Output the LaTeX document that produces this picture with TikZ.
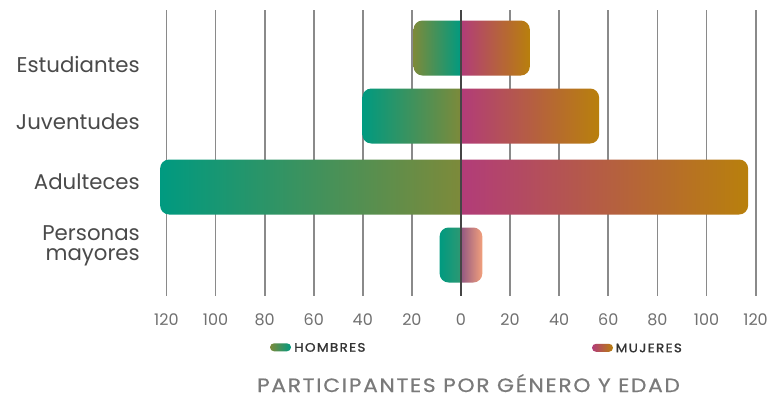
\documentclass[tikz,border=0pt]{standalone}
\usepackage{fontspec}
\setmainfont{Poppins}
\newfontfamily\semib{Poppins}[FakeBold=1.2,LetterSpace=10]
\newfontfamily\medf{Poppins}[FakeBold=0.6,LetterSpace=8]
\definecolor{cTeal}{HTML}{009A80}
\definecolor{cOlive}{HTML}{7D8A3A}
\definecolor{cMag}{HTML}{B23C79}
\definecolor{cGold}{HTML}{B8800C}
\definecolor{cPurp}{HTML}{935882}
\definecolor{cSalm}{HTML}{F2A07C}
\definecolor{cTealG}{HTML}{2E9872}
\definecolor{cGrid}{HTML}{8A8A8A}
\definecolor{cAxis}{HTML}{454545}
\definecolor{cCat}{HTML}{4A4A4A}
\definecolor{cTick}{HTML}{707070}
\definecolor{cLeg}{HTML}{333333}
\definecolor{cTitle}{HTML}{7A7A7A}
\tikzset{
  gridline/.style={draw=cGrid,line width=1.8pt},
  axisline/.style={draw=cAxis,line width=1.6pt},
  barshape/.style={rounded corners=9pt},
  cat/.style={anchor=base east,inner sep=0pt,text=cCat,font=\fontsize{21.3}{20}\selectfont},
  tick/.style={anchor=base,inner sep=0pt,text=cTick,font=\fontsize{16}{16}\selectfont},
  leg/.style={anchor=base west,inner sep=0pt,text=cLeg,font=\semib\fontsize{12.3}{13}\selectfont,xscale=1.1,transform shape},
  ttl/.style={anchor=base,inner sep=0pt,text=cTitle,font=\medf\fontsize{19.3}{20}\selectfont,xscale=1.125,transform shape}
}
\begin{document}
\begin{tikzpicture}[x=1pt,y=-1pt]
\useasboundingbox (0,0) rectangle (773,397);
\fill[white] (0,0) rectangle (773,397);
% grid
\foreach \k in {-6,...,6}{
  \draw[gridline] ({461+49.1*\k},10) -- ({461+49.1*\k},296);
}
% bars: men (left)
\shade[barshape,left color=cOlive,right color=cTeal] (461,20.5) -- (413.5,20.5) -- (413.5,75.5) -- (461,75.5);
\shade[barshape,left color=cTeal,right color=cOlive] (461,88.5) -- (362.3,88.5) -- (362.3,143.5) -- (461,143.5);
\shade[barshape,left color=cTeal,right color=cOlive] (461,159.5) -- (160.1,159.5) -- (160.1,214.5) -- (461,214.5);
\shade[barshape,left color=cTeal,right color=cTealG] (461,227.5) -- (439.6,227.5) -- (439.6,282.5) -- (461,282.5);
% bars: women (right)
\shade[barshape,left color=cMag,right color=cGold] (461,20.5) -- (529.8,20.5) -- (529.8,75.5) -- (461,75.5);
\shade[barshape,left color=cMag,right color=cGold] (461,88.5) -- (599.1,88.5) -- (599.1,143.5) -- (461,143.5);
\shade[barshape,left color=cMag,right color=cGold] (461,159.5) -- (748.1,159.5) -- (748.1,214.5) -- (461,214.5);
\shade[barshape,left color=cPurp,right color=cSalm] (461,227.5) -- (482.3,227.5) -- (482.3,282.5) -- (461,282.5);
% axis
\draw[axisline] (461,10) -- (461,296);
% categories
\node[cat] (estud) at (140,72.7) {Estudiantes};
\node[cat] (juven) at (140,129) {Juventudes};
\node[cat] (adult) at (140,189) {Adulteces};
\node[cat] (perso) at (140,240.7) {Personas};
\node[cat] (mayor) at (140,260.7) {mayores};
% ticks
\foreach \i/\l in {0/120,1/100,2/80,3/60,4/40,5/20,6/0,7/20,8/40,9/60,10/80,11/100,12/120}{
  \node[tick] (tk\i) at ({461+49.1*(\i-6)},325) {\l};
}
% legend
\shade[left color=cOlive,right color=cTeal,rounded corners=4pt] (270,343.3) rectangle (291,351.3);
\node[leg] (hom) at (294,351.7) {HOMBRES};
\shade[left color=cMag,right color=cGold,rounded corners=4pt] (592,343.8) rectangle (613,351.8);
\node[leg] (muj) at (615.5,352.2) {MUJERES};
% title
\node[ttl] (title) at (468.5,392) {PARTICIPANTES POR GÉNERO Y EDAD};
\end{tikzpicture}
\end{document}
